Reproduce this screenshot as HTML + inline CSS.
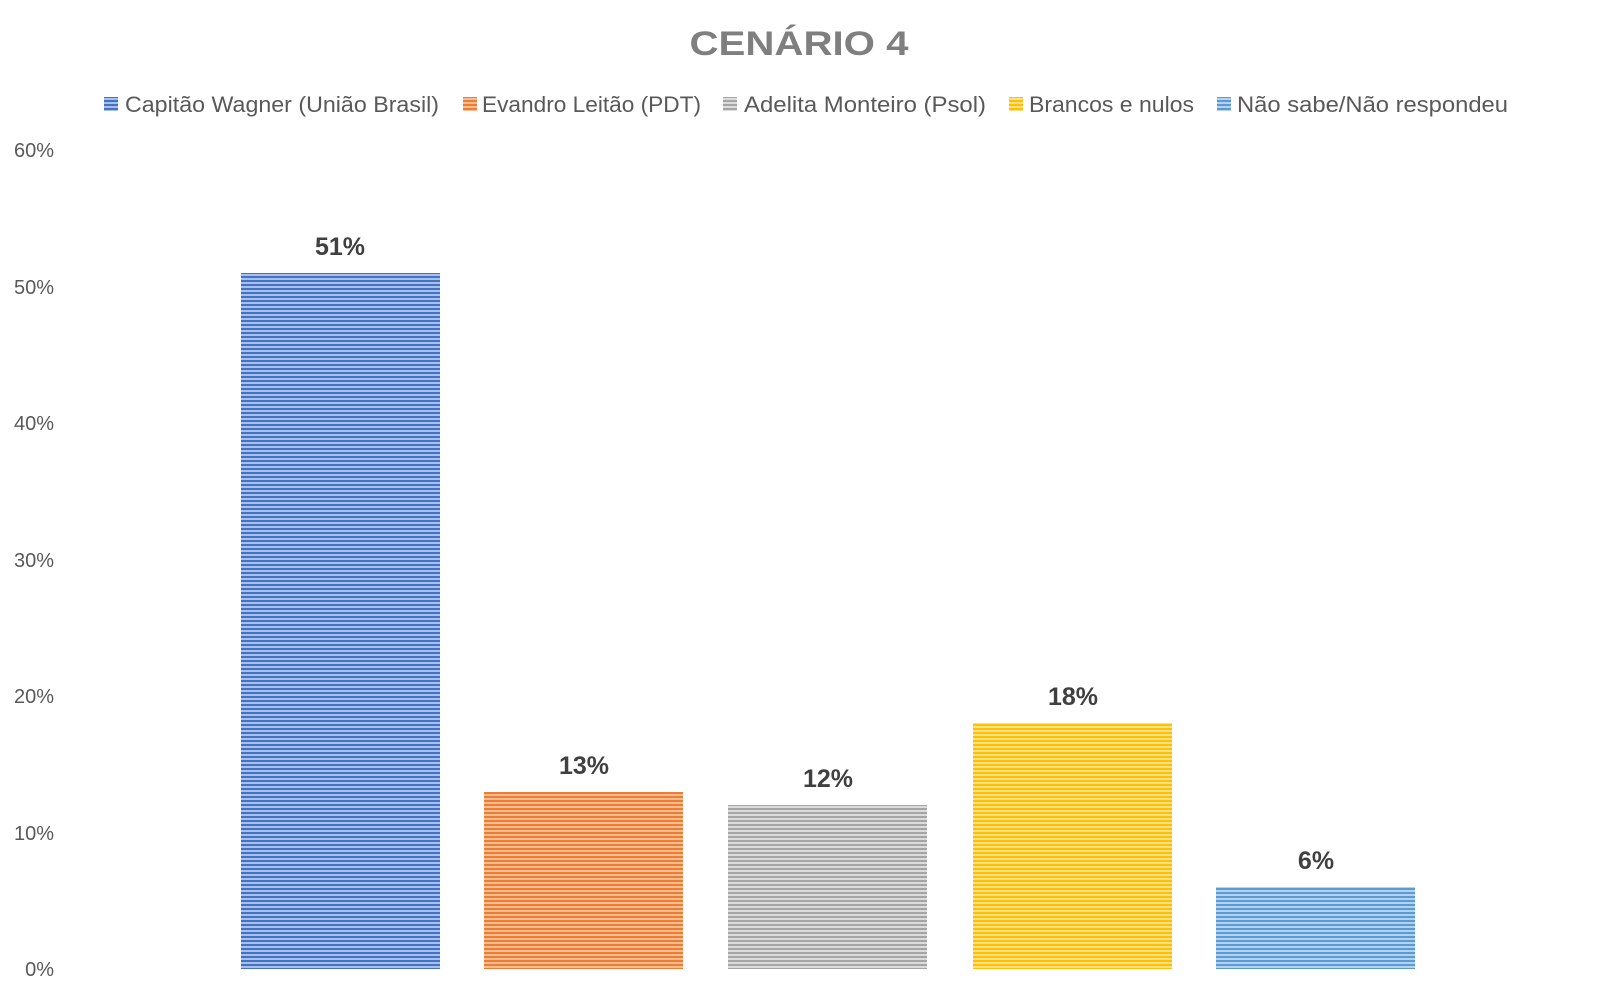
<!DOCTYPE html>
<html><head><meta charset="utf-8"><style>
html,body{margin:0;padding:0;background:#fff}
svg{display:block}
</style></head><body>
<svg width="1600" height="993" xmlns="http://www.w3.org/2000/svg" font-family="'Liberation Sans', sans-serif">
<defs>
<pattern id="pb" width="4" height="4" patternUnits="userSpaceOnUse"><rect width="4" height="4" fill="#a9c0ea"/><rect width="4" height="2" fill="#4472C4"/></pattern>
<pattern id="po" width="4" height="4" patternUnits="userSpaceOnUse"><rect width="4" height="4" fill="#f6bc95"/><rect width="4" height="2" fill="#ED7D31"/></pattern>
<pattern id="pg" width="4" height="4" patternUnits="userSpaceOnUse"><rect width="4" height="4" fill="#dcdcdc"/><rect width="4" height="2" fill="#A5A5A5"/></pattern>
<pattern id="py" width="4" height="4" patternUnits="userSpaceOnUse"><rect width="4" height="4" fill="#ffe08a"/><rect width="4" height="2" fill="#FFC000"/></pattern>
<pattern id="pl" width="4" height="4" patternUnits="userSpaceOnUse"><rect width="4" height="4" fill="#b5d2ee"/><rect width="4" height="2" fill="#5B9BD5"/></pattern>
</defs>
<text x="799" y="55" text-anchor="middle" font-size="34" font-weight="bold" fill="#7f7f7f" textLength="219" lengthAdjust="spacingAndGlyphs">CENÁRIO 4</text>
<g font-size="22" fill="#595959">
<rect x="104" y="97" width="14" height="14" fill="url(#pb)"/><text x="125" y="112" textLength="314" lengthAdjust="spacingAndGlyphs">Capitão Wagner (União Brasil)</text>
<rect x="463" y="97" width="14" height="14" fill="url(#po)"/><text x="482" y="112" textLength="219" lengthAdjust="spacingAndGlyphs">Evandro Leitão (PDT)</text>
<rect x="723" y="97" width="14" height="14" fill="url(#pg)"/><text x="744" y="112" textLength="242" lengthAdjust="spacingAndGlyphs">Adelita Monteiro (Psol)</text>
<rect x="1009" y="97" width="14" height="14" fill="url(#py)"/><text x="1029" y="112" textLength="165" lengthAdjust="spacingAndGlyphs">Brancos e nulos</text>
<rect x="1217" y="97" width="14" height="14" fill="url(#pl)"/><text x="1237" y="112" textLength="271" lengthAdjust="spacingAndGlyphs">Não sabe/Não respondeu</text>
</g>
<g font-size="20" fill="#595959" text-anchor="end">
<text x="54" y="157">60%</text>
<text x="54" y="294">50%</text>
<text x="54" y="430">40%</text>
<text x="54" y="567">30%</text>
<text x="54" y="703">20%</text>
<text x="54" y="840">10%</text>
<text x="54" y="976">0%</text>
</g>
<rect x="241" y="273" width="199" height="696" fill="url(#pb)"/>
<rect x="484" y="792" width="199" height="177" fill="url(#po)"/>
<rect x="728" y="805" width="199" height="164" fill="url(#pg)"/>
<rect x="973" y="723" width="199" height="246" fill="url(#py)"/>
<rect x="1216" y="887" width="199" height="82" fill="url(#pl)"/>
<g font-size="25" font-weight="bold" fill="#404040" text-anchor="middle">
<text x="340" y="255">51%</text>
<text x="584" y="774">13%</text>
<text x="828" y="787">12%</text>
<text x="1073" y="705">18%</text>
<text x="1316" y="869">6%</text>
</g>
</svg>
</body></html>
